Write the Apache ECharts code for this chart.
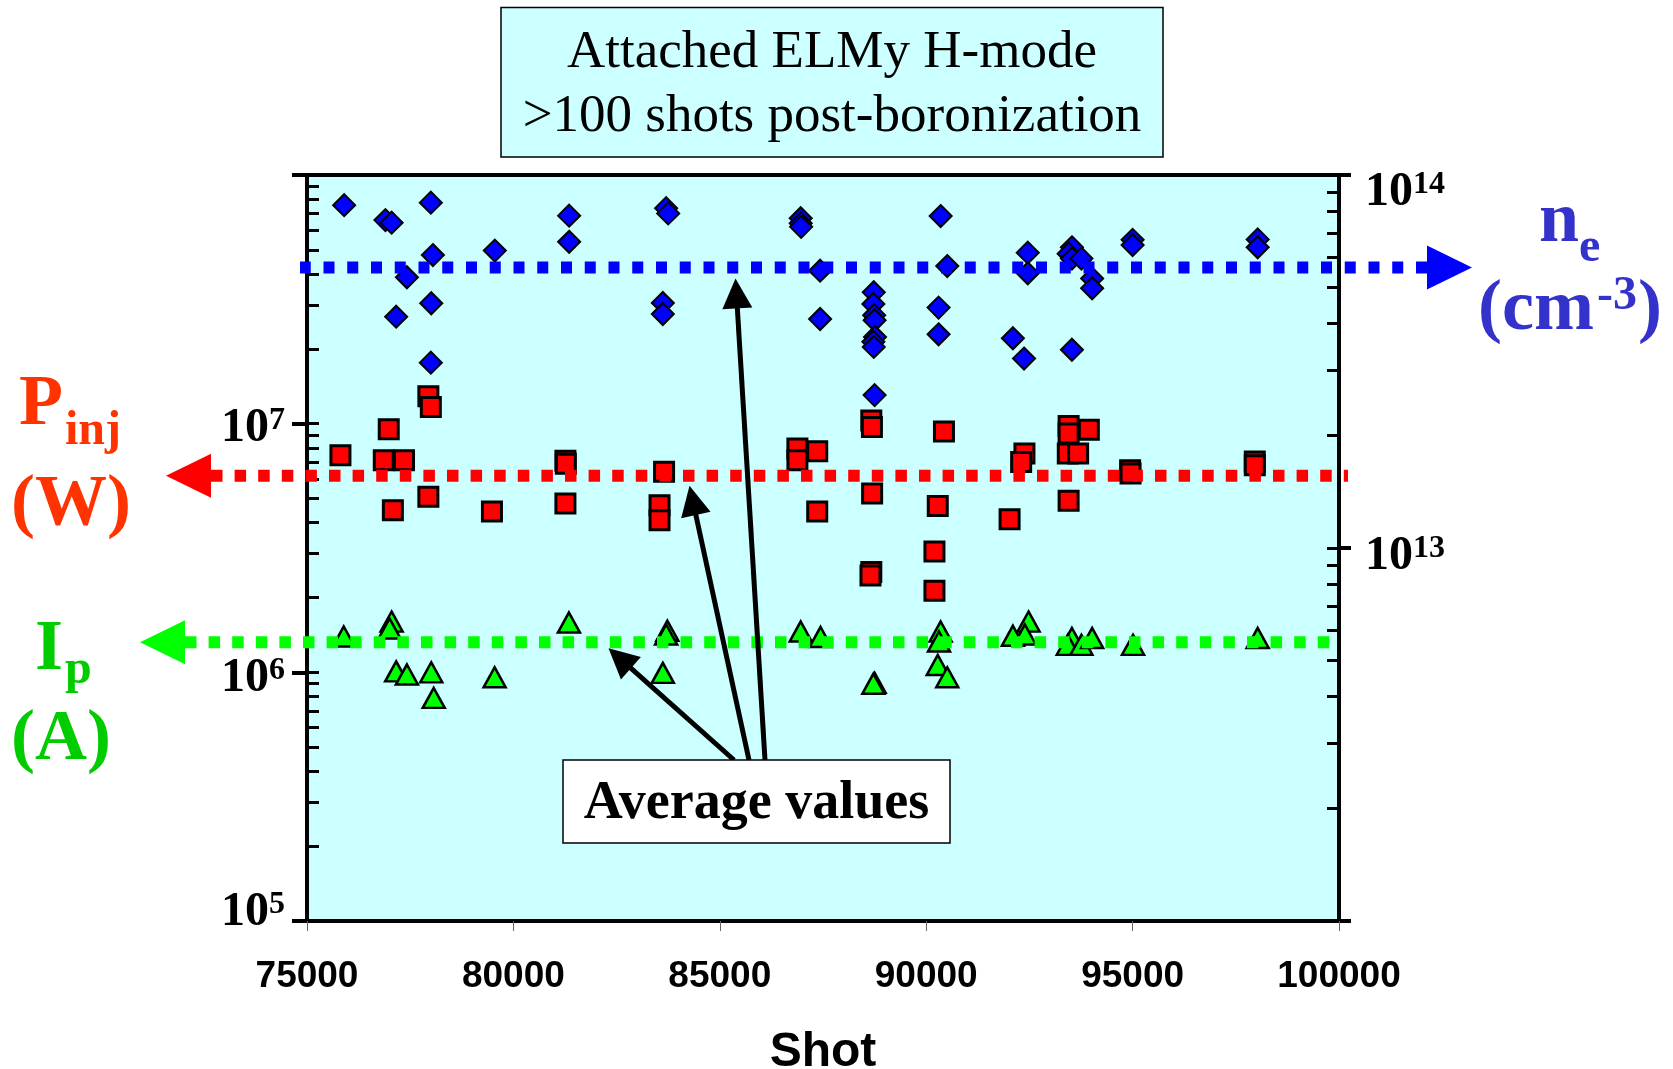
<!DOCTYPE html>
<html>
<head>
<meta charset="utf-8">
<script src="https://cdn.jsdelivr.net/npm/echarts@6/dist/echarts.min.js"></script>
<style>
  html, body { margin: 0; padding: 0; background: #ffffff; }
  #chart { width: 1673px; height: 1069px; }
</style>
</head>
<body>
<div id="chart"></div>
<script>
// Electron density n_e (cm^-3) per shot
const neShot = [75900, 76900, 77050, 78000, 78050, 79550, 81350, 81350, 77420, 78010, 77160, 78000,
  83700, 83750, 83620, 83620, 86960, 86960, 86970, 87430, 87430, 90350, 90510, 90300, 90300,
  88730, 88720, 88740, 88750, 88760, 88720, 88730, 88750,
  92460, 92460, 92100, 92370, 93530, 93450, 93530, 93760, 94020, 94020, 93530, 95000, 95000, 98030, 98030];
const neDensity = [8.3e13, 7.57e13, 7.45e13, 8.43e13, 6.10e13, 6.27e13, 7.78e13, 6.62e13, 5.32e13, 4.53e13, 4.17e13, 3.14e13,
  8.15e13, 7.89e13, 4.54e13, 4.24e13, 7.66e13, 7.42e13, 7.26e13, 5.54e13, 4.11e13, 7.76e13, 5.70e13, 4.41e13, 3.74e13,
  4.85e13, 4.51e13, 4.21e13, 4.08e13, 3.68e13, 3.57e13, 3.46e13, 2.57e13,
  6.19e13, 5.45e13, 3.65e13, 3.22e13, 6.40e13, 6.15e13, 5.97e13, 5.97e13, 5.28e13, 4.97e13, 3.40e13, 6.70e13, 6.49e13, 6.72e13, 6.40e13];

// Injected power P_inj (W) per shot
const pinjShot = [75810, 76980, 76860, 77350, 77940, 78000, 77080, 77940, 79480, 81260, 81270, 81260,
  83650, 83540, 83540, 86880, 86880, 87360, 87360, 88670, 88685, 88690, 88670, 88650, 90430, 90280, 90200, 90200,
  92380, 92300, 92020, 93450, 93450, 93940, 93430, 93680, 93450, 94940, 94950, 97960, 97960];
const pinjPower = [7.46e6, 9.49e6, 7.13e6, 7.13e6, 1.29e7, 1.166e7, 4.49e6, 5.08e6, 4.43e6, 7.1e6, 6.9e6, 4.78e6,
  6.40e6, 4.70e6, 4.09e6, 7.94e6, 7.13e6, 7.74e6, 4.43e6, 1.03e7, 9.69e6, 5.24e6, 2.53e6, 2.45e6, 9.31e6, 4.67e6, 3.06e6, 2.13e6,
  7.58e6, 7.01e6, 4.13e6, 9.78e6, 9.12e6, 9.46e6, 7.58e6, 7.58e6, 4.90e6, 6.50e6, 6.30e6, 7.05e6, 6.80e6];

// Plasma current I_p (A) per shot
const ipShot = [75890, 77050, 77000, 77160, 77420, 78010, 78070, 79545, 81345, 83730, 83700, 83620, 86960, 87440,
  88750, 88720, 90350, 90310, 90280, 90510, 92100, 92480, 92390, 93530, 93430, 93760, 94020, 95010, 98030];
const ipCurrent = [1.394e6, 1.60e6, 1.50e6, 1.009e6, 0.98e6, 1.0e6, 0.789e6, 0.955e6, 1.587e6, 1.47e6, 1.42e6, 0.995e6, 1.46e6, 1.387e6,
  0.907e6, 0.90e6, 1.46e6, 1.33e6, 1.07e6, 0.955e6, 1.403e6, 1.60e6, 1.42e6, 1.374e6, 1.29e6, 1.29e6, 1.374e6, 1.29e6, 1.374e6];

// Average values
const avgDensity = 5.65e13;
const avgPower = 6.18e6;
const avgCurrent = 1.32e6;

// Axis ranges and ticks
const shotMin = 75000, shotMax = 100000, shotStep = 5000;
const leftDecades = [5, 6, 7, 8];      // 10^5 .. 10^8
const rightDecades = [12, 13, 14];     // 10^12 .. 10^14
const minorMultipliers = [2, 3, 4, 5, 6, 7, 8, 9];
const leftLabelled = [5, 6, 7];
const rightLabelled = [13, 14];
// vertical nudge of each power-of-ten label (px, positive = down)
const labelNudge = { 5: -8, 6: 6, 7: 5, 13: 9, 14: 18 };

const SERIF = '"Liberation Serif", "Times New Roman", serif';
const SANS = '"Liberation Sans", Arial, sans-serif';

function zip(xs, ys) { return xs.map((x, i) => [x, ys[i]]); }
function logTicks(decades) {
  const out = [];
  decades.forEach((d, i) => {
    out.push(d);
    if (i < decades.length - 1) minorMultipliers.forEach(m => out.push(d + Math.log10(m)));
  });
  return out;
}
// "10" with a raised exponent; a thin spacer line above or below shifts the label
function powerLabel(labelled) {
  return function (v) {
    const e = Math.round(Math.log10(v));
    if (labelled.indexOf(e) < 0) return '';
    const main = '{b|10}{s|' + e + '}';
    const d = labelNudge[e] || 0;
    if (d > 0) return '{g' + e + '| }\n' + main;
    if (d < 0) return main + '\n{g' + e + '| }';
    return main;
  };
}
function powerRich(exps) {
  const rich = {
    b: { fontFamily: SERIF, fontWeight: 'bold', fontSize: 48, color: '#000', lineHeight: 48, verticalAlign: 'top' },
    s: { fontFamily: SERIF, fontWeight: 'bold', fontSize: 32, color: '#000', lineHeight: 29, verticalAlign: 'top' }
  };
  exps.forEach(e => {
    rich['g' + e] = { fontSize: 1, lineHeight: 2 * Math.abs(labelNudge[e] || 0) };
  });
  return rich;
}

const chart = echarts.init(document.getElementById('chart'), null, { renderer: 'canvas' });

chart.setOption({
  animation: false,
  backgroundColor: '#ffffff',
  grid: {
    left: 307, top: 175, width: 1032, height: 746, outerBoundsMode: 'none', containLabel: false,
    show: true, backgroundColor: '#CCFFFF', borderColor: '#000', borderWidth: 4
  },
  xAxis: {
    type: 'value', min: shotMin, max: shotMax, interval: shotStep,
    axisLine: { lineStyle: { color: '#000', width: 4 } },
    axisTick: { length: 10, lineStyle: { color: '#666', width: 1 } },
    splitLine: { show: false },
    axisLabel: { fontFamily: SANS, fontWeight: 'bold', fontSize: 37, color: '#000', margin: 37,
      formatter: v => String(v) },
    name: 'Shot', nameLocation: 'middle', nameGap: 108,
    nameTextStyle: { fontFamily: SANS, fontWeight: 'bold', fontSize: 48, color: '#000' }
  },
  yAxis: [
    {
      type: 'log', logBase: 10, min: 1e5, max: 1e8, position: 'left',
      axisLine: { show: true, lineStyle: { color: '#000', width: 4 } },
      axisTick: { show: true, inside: false, length: 15, lineStyle: { color: '#000', width: 4 } },
      splitLine: { show: false },
      axisLabel: { margin: 22, formatter: powerLabel(leftLabelled), rich: powerRich(leftLabelled) }
    },
    {
      type: 'log', logBase: 10, min: 1e12, max: 1e14, position: 'right',
      axisLine: { show: true, lineStyle: { color: '#000', width: 4 } },
      axisTick: { show: true, inside: false, length: 12, lineStyle: { color: '#000', width: 4 } },
      splitLine: { show: false },
      axisLabel: { margin: 26, formatter: powerLabel(rightLabelled), rich: powerRich(rightLabelled) }
    },
    {
      // inner minor/major ticks of the left scale (exponent units)
      type: 'value', min: 5, max: 8, interval: 1, position: 'left',
      axisLine: { show: false },
      axisTick: { show: true, inside: true, length: 12, customValues: logTicks(leftDecades),
        lineStyle: { color: '#000', width: 3 } },
      axisLabel: { show: false }, splitLine: { show: false }
    },
    {
      // inner minor/major ticks of the right scale (exponent units)
      type: 'value', min: 12, max: 14, interval: 1, position: 'right',
      axisLine: { show: false },
      axisTick: { show: true, inside: true, length: 12, customValues: logTicks(rightDecades),
        lineStyle: { color: '#000', width: 3 } },
      axisLabel: { show: false }, splitLine: { show: false }
    }
  ],
  series: [
    {
      name: 'n_e', type: 'scatter', yAxisIndex: 1, symbol: 'diamond', symbolSize: 22,
      itemStyle: { color: '#0000FF', borderColor: '#000', borderWidth: 2, opacity: 1 },
      data: zip(neShot, neDensity), z: 3
    },
    {
      name: 'P_inj', type: 'scatter', yAxisIndex: 0, symbol: 'rect', symbolSize: 19,
      itemStyle: { color: '#FF0000', borderColor: '#000', borderWidth: 3, opacity: 1 },
      data: zip(pinjShot, pinjPower), z: 3
    },
    {
      name: 'I_p', type: 'scatter', yAxisIndex: 0, symbol: 'triangle', symbolSize: [22, 20],
      itemStyle: { color: '#00FF00', borderColor: '#000', borderWidth: 2.5, opacity: 1 },
      data: zip(ipShot, ipCurrent), z: 3
    }
  ]
});

// Average lines and annotations, positioned through the axes
const yNe = chart.convertToPixel({ yAxisIndex: 1 }, avgDensity);
const yP = chart.convertToPixel({ yAxisIndex: 0 }, avgPower);
const yI = chart.convertToPixel({ yAxisIndex: 0 }, avgCurrent);

function dotted(x1, x2, y, color, dash) {
  return { type: 'polyline', z: 50, silent: true,
    shape: { points: [[x1, y], [x2, y]] },
    style: { stroke: color, lineWidth: 12, lineDash: dash, fill: null, lineCap: 'butt' } };
}
function head(tipX, y, dir, color) {
  // dir = +1 points right, -1 points left
  const baseX = tipX - dir * 45;
  return { type: 'polygon', z: 51, silent: true,
    shape: { points: [[tipX, y], [baseX, y - 22], [baseX, y + 22]] },
    style: { fill: color } };
}
function pointer(x1, y1, x2, y2) {
  const dx = x2 - x1, dy = y2 - y1, len = Math.hypot(dx, dy);
  const ux = dx / len, uy = dy / len, L = 30, W = 15;
  const bx = x2 - ux * L, by = y2 - uy * L;
  return [
    { type: 'line', z: 60, silent: true, shape: { x1: x1, y1: y1, x2: bx + ux * 2, y2: by + uy * 2 },
      style: { stroke: '#000', lineWidth: 5 } },
    { type: 'polygon', z: 60, silent: true,
      shape: { points: [[x2, y2], [bx - uy * W, by + ux * W], [bx + uy * W, by - ux * W]] },
      style: { fill: '#000' } }
  ];
}
function txt(x, y, text, size, color, align, weight) {
  return { type: 'text', z: 70, silent: true, x: x, y: y,
    style: { text: text, fill: color, align: align || 'left', verticalAlign: 'middle',
      font: (weight || 'bold') + ' ' + size + 'px ' + SERIF } };
}

const graphics = [
  dotted(1427, 300, yNe, '#0000FF', [11, 12.75]),
  head(1472, yNe, 1, '#0000FF'),
  dotted(211, 1348, yP, '#FF0000', [11.5, 12.1]),
  head(166, yP, -1, '#FF0000'),
  dotted(185, 1332, yI, '#00FF00', [11.5, 12.1]),
  head(140, yI, -1, '#00FF00'),
  ...pointer(765, 760, 735.5, yNe + 11),
  ...pointer(749, 760, 689.5, yP + 10),
  ...pointer(734, 760, 608.5, yI + 6),
  // title box
  { type: 'rect', z: 65, silent: true, shape: { x: 501, y: 7.5, width: 662, height: 149.5 },
    style: { fill: '#CCFFFF', stroke: '#000', lineWidth: 1.5 } },
  txt(832, 53, 'Attached ELMy H-mode', 53, '#000', 'center', 'normal'),
  txt(832, 117, '>100 shots post-boronization', 53, '#000', 'center', 'normal'),
  // average values box
  { type: 'rect', z: 65, silent: true, shape: { x: 563, y: 760, width: 387, height: 83 },
    style: { fill: '#FFFFFF', stroke: '#000', lineWidth: 1.5 } },
  txt(756.5, 804, 'Average values', 54, '#000', 'center'),
  // P_inj (W)
  txt(19, 405, 'P', 72, '#FF3300'),
  txt(65, 432, 'inj', 48, '#FF3300'),
  txt(71, 505, '(W)', 72, '#FF3300', 'center'),
  // I_p (A)
  txt(35, 650, 'I', 72, '#00CC00'),
  txt(65, 671, 'p', 48, '#00CC00'),
  txt(61, 740, '(A)', 72, '#00CC00', 'center'),
  // n_e (cm^-3)
  txt(1539, 222.5, 'n', 72, '#3333CC'),
  txt(1579, 248.5, 'e', 48, '#3333CC'),
  txt(1478, 310.5, '(cm', 72, '#3333CC'),
  txt(1597, 296.5, '-3', 48, '#3333CC'),
  txt(1638, 310.5, ')', 72, '#3333CC')
];

chart.setOption({ graphic: graphics });
</script>
</body>
</html>
